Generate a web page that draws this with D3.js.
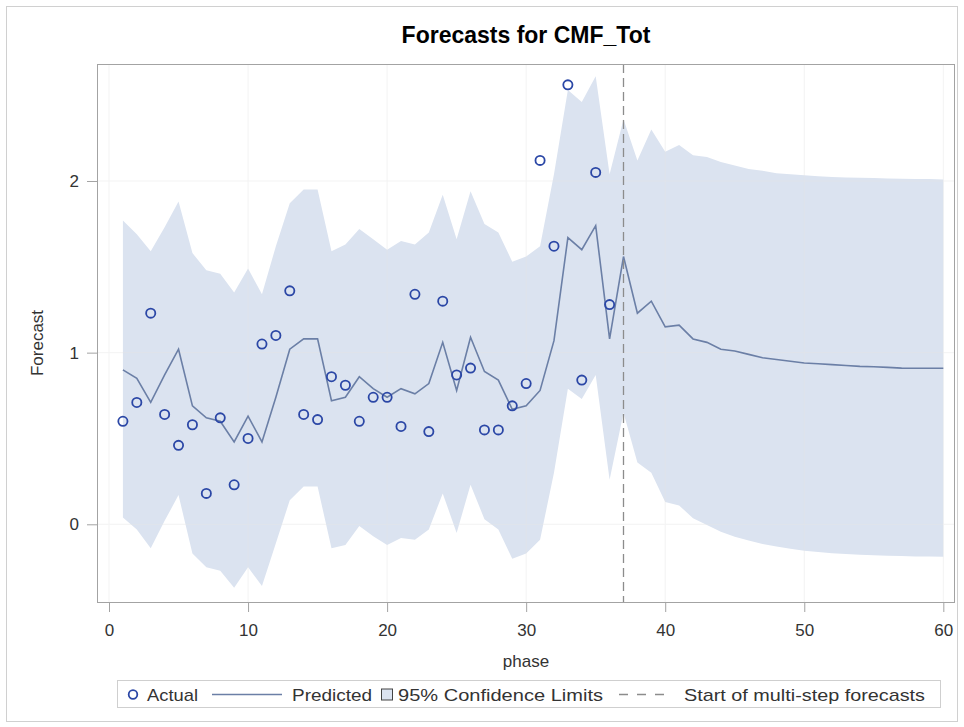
<!DOCTYPE html>
<html>
<head>
<meta charset="utf-8">
<script src="https://cdn.jsdelivr.net/npm/d3@7"></script>
<style>
  body { margin: 0; background: #fff; }
  svg text { font-family: "Liberation Sans", Arial, sans-serif; }
</style>
</head>
<body>
<div id="chart"></div>
<script>
(() => {
  // values
  const phase = [1, 2, 3, 4, 5, 6, 7, 8, 9, 10, 11, 12, 13, 14, 15, 16, 17, 18, 19, 20,
    21, 22, 23, 24, 25, 26, 27, 28, 29, 30, 31, 32, 33, 34, 35, 36, 37, 38, 39, 40,
    41, 42, 43, 44, 45, 46, 47, 48, 49, 50, 51, 52, 53, 54, 55, 56, 57, 58, 59, 60]

  const actual = [0.60, 0.71, 1.23, 0.64, 0.46, 0.58, 0.18, 0.62, 0.23, 0.50,
    1.05, 1.10, 1.36, 0.64, 0.61, 0.86, 0.81, 0.60, 0.74, 0.74,
    0.57, 1.34, 0.54, 1.30, 0.87, 0.91, 0.55, 0.55, 0.69, 0.82,
    2.12, 1.62, 2.56, 0.84, 2.05, 1.28]

  const predicted = [0.90, 0.85, 0.71, 0.87, 1.02, 0.69, 0.62, 0.60, 0.48, 0.63,
    0.48, 0.74, 1.02, 1.08, 1.08, 0.72, 0.74, 0.86, 0.79, 0.74,
    0.79, 0.76, 0.82, 1.06, 0.78, 1.09, 0.89, 0.84, 0.67, 0.69,
    0.78, 1.07, 1.67, 1.60, 1.74, 1.08, 1.56, 1.23, 1.30, 1.15,
    1.16, 1.08, 1.06, 1.02, 1.01, 0.99, 0.97, 0.96, 0.95, 0.94,
    0.935, 0.93, 0.925, 0.92, 0.918, 0.914, 0.91, 0.909, 0.909, 0.909]

  const upper = [1.77, 1.69, 1.59, 1.73, 1.88, 1.58, 1.48, 1.46, 1.35, 1.49,
    1.34, 1.62, 1.87, 1.95, 1.95, 1.59, 1.63, 1.72, 1.66, 1.60,
    1.65, 1.63, 1.70, 1.92, 1.66, 1.94, 1.75, 1.70, 1.53, 1.56,
    1.62, 2.04, 2.53, 2.46, 2.61, 2.04, 2.36, 2.12, 2.30, 2.17,
    2.21, 2.15, 2.14, 2.11, 2.09, 2.07, 2.06, 2.045, 2.04, 2.034,
    2.028, 2.024, 2.021, 2.019, 2.017, 2.015, 2.013, 2.012, 2.011, 2.009]

  const lower = [0.04, -0.03, -0.14, 0.02, 0.17, -0.17, -0.25, -0.27, -0.37, -0.25,
    -0.36, -0.11, 0.14, 0.22, 0.22, -0.14, -0.12, -0.01, -0.07, -0.12,
    -0.08, -0.09, -0.03, 0.18, -0.05, 0.23, 0.03, -0.03, -0.20, -0.17,
    -0.09, 0.30, 0.79, 0.73, 0.87, 0.26, 0.65, 0.36, 0.30, 0.13,
    0.11, 0.035, -0.004, -0.043, -0.072, -0.095, -0.115, -0.13, -0.142, -0.154,
    -0.161, -0.169, -0.173, -0.177, -0.181, -0.183, -0.185, -0.187, -0.188, -0.189]

  const forecastStart = 37
  const xTicks = [0, 10, 20, 30, 40, 50, 60]
  const yTicks = [0, 1, 2]
  const legendLabels = ['Actual', 'Predicted', '95% Confidence Limits', 'Start of multi-step forecasts']

  const WIDTH = 964
  const HEIGHT = 727
  const PLOT = { left: 97, right: 955, top: 64, bottom: 603 }

  const COLORS = {
    band: '#dbe3f0',
    line: '#6b7fa6',
    marker: '#2b47a6',
    grid: '#e6e6e6',
    frame: '#a3a3a3',
    ref: '#8c8c8c',
    text: '#333'
  }

  const svg = d3.select('#chart')
    .append('svg')
    .attr('width', WIDTH)
    .attr('height', HEIGHT)

  // outer border
  svg.append('rect')
    .attr('x', 6.5).attr('y', 6.5)
    .attr('width', WIDTH - 13).attr('height', HEIGHT - 12)
    .attr('fill', 'none')
    .attr('stroke', '#d0d0d0')

  const xScale = d3.scaleLinear()
    .domain([-0.863, 60.84])
    .range([PLOT.left, PLOT.right])

  const yScale = d3.scaleLinear()
    .domain([-0.4585, 2.6816])
    .range([PLOT.bottom, PLOT.top])

  // gridlines
  const grid = svg.append('g')
  grid.selectAll('.vgrid')
    .data(xTicks)
    .join('line')
    .attr('x1', d => xScale(d)).attr('x2', d => xScale(d))
    .attr('y1', PLOT.top).attr('y2', PLOT.bottom)
    .attr('stroke', COLORS.grid)
  grid.selectAll('.hgrid')
    .data(yTicks)
    .join('line')
    .attr('x1', PLOT.left).attr('x2', PLOT.right)
    .attr('y1', d => yScale(d)).attr('y2', d => yScale(d))
    .attr('stroke', COLORS.grid)

  const rows = phase.map((p, i) => ({ phase: p, pred: predicted[i], lo: lower[i], hi: upper[i] }))

  // confidence band
  const band = d3.area()
    .x(d => xScale(d.phase))
    .y0(d => yScale(d.lo))
    .y1(d => yScale(d.hi))

  svg.append('path')
    .datum(rows)
    .attr('d', band)
    .attr('fill', COLORS.band)

  // grid shows faintly through the band
  grid.raise().attr('opacity', 0.45)

  // predicted line
  const line = d3.line()
    .x(d => xScale(d.phase))
    .y(d => yScale(d.pred))

  svg.append('path')
    .datum(rows)
    .attr('d', line)
    .attr('fill', 'none')
    .attr('stroke', COLORS.line)
    .attr('stroke-width', 1.6)

  // start of multi-step forecasts
  svg.append('line')
    .attr('x1', xScale(forecastStart)).attr('x2', xScale(forecastStart))
    .attr('y1', PLOT.top).attr('y2', PLOT.bottom)
    .attr('stroke', COLORS.ref)
    .attr('stroke-width', 1.3)
    .attr('stroke-dasharray', '9,5')

  // actual points
  svg.append('g')
    .selectAll('circle')
    .data(actual)
    .join('circle')
    .attr('cx', (d, i) => xScale(phase[i]))
    .attr('cy', d => yScale(d))
    .attr('r', 4.6)
    .attr('fill', 'none')
    .attr('stroke', COLORS.marker)
    .attr('stroke-width', 1.8)

  // frame
  svg.append('rect')
    .attr('x', PLOT.left + 0.5).attr('y', PLOT.top + 0.5)
    .attr('width', PLOT.right - PLOT.left - 1)
    .attr('height', PLOT.bottom - PLOT.top - 1)
    .attr('fill', 'none')
    .attr('stroke', COLORS.frame)

  // axes
  const xAxis = d3.axisBottom(xScale)
    .tickValues(xTicks)
    .tickSize(9)
    .tickPadding(12)

  const yAxis = d3.axisLeft(yScale)
    .tickValues(yTicks)
    .tickFormat(d3.format('d'))
    .tickSize(10)
    .tickPadding(8)

  const gx = svg.append('g')
    .attr('transform', `translate(0, ${PLOT.bottom})`)
    .call(xAxis)
  const gy = svg.append('g')
    .attr('transform', `translate(${PLOT.left}, 0)`)
    .call(yAxis)

  for (const g of [gx, gy]) {
    g.select('.domain').remove()
    g.selectAll('.tick line').attr('stroke', COLORS.frame)
    g.selectAll('.tick text')
      .attr('fill', COLORS.text)
      .style('font-size', '17px')
  }

  // titles
  svg.append('text')
    .attr('x', (PLOT.left + PLOT.right) / 2)
    .attr('y', 43)
    .attr('text-anchor', 'middle')
    .style('font-size', '23px')
    .style('font-weight', 'bold')
    .text('Forecasts for CMF_Tot')

  svg.append('text')
    .attr('x', (PLOT.left + PLOT.right) / 2)
    .attr('y', 667)
    .attr('text-anchor', 'middle')
    .attr('fill', COLORS.text)
    .style('font-size', '17px')
    .text('phase')

  svg.append('text')
    .attr('transform', `translate(43, 343) rotate(-90)`)
    .attr('text-anchor', 'middle')
    .attr('fill', COLORS.text)
    .style('font-size', '17px')
    .text('Forecast')

  // legend
  const LEG = { x: 117, y: 680, w: 823, h: 27 }
  const legend = svg.append('g')
  legend.append('rect')
    .attr('x', LEG.x + 0.5).attr('y', LEG.y + 0.5)
    .attr('width', LEG.w).attr('height', LEG.h)
    .attr('fill', 'none')
    .attr('stroke', '#cfcfcf')

  const cy = LEG.y + LEG.h / 2 + 1
  // symbol start/end and text start/width for each legend entry (layout only)
  const slots = [
    { key: 'marker', s0: 128, s1: 138, t: 147, tw: 51 },
    { key: 'line', s0: 212, s1: 282, t: 292, tw: 80 },
    { key: 'band', s0: 381, s1: 392, t: 398, tw: 205 },
    { key: 'dash', s0: 619, s1: 670, t: 684, tw: 241 }
  ]
  slots.forEach((it, i) => {
    if (it.key === 'marker') {
      legend.append('circle')
        .attr('cx', (it.s0 + it.s1) / 2).attr('cy', cy).attr('r', 4.3)
        .attr('fill', 'none').attr('stroke', COLORS.marker).attr('stroke-width', 1.8)
    } else if (it.key === 'line') {
      legend.append('line')
        .attr('x1', it.s0).attr('x2', it.s1).attr('y1', cy).attr('y2', cy)
        .attr('stroke', COLORS.line).attr('stroke-width', 1.6)
    } else if (it.key === 'band') {
      legend.append('rect')
        .attr('x', it.s0 + 0.5).attr('y', cy - 5.5).attr('width', it.s1 - it.s0).attr('height', 11)
        .attr('fill', COLORS.band).attr('stroke', '#444')
    } else {
      legend.append('line')
        .attr('x1', it.s0).attr('x2', it.s1).attr('y1', cy).attr('y2', cy)
        .attr('stroke', COLORS.ref).attr('stroke-width', 1.3)
        .attr('stroke-dasharray', '9,9')
    }
    legend.append('text')
      .attr('x', it.t).attr('y', cy + 6)
      .attr('fill', COLORS.text)
      .attr('textLength', it.tw)
      .attr('lengthAdjust', 'spacingAndGlyphs')
      .style('font-size', '17px')
      .text(legendLabels[i])
  })
})()
</script>
</body>
</html>
